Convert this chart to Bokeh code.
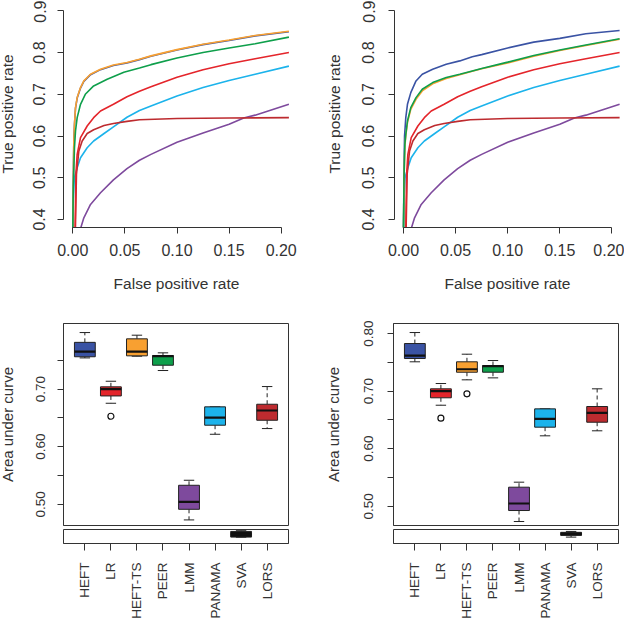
import math
from bokeh.plotting import figure
from bokeh.models import Range1d, FixedTicker, PrintfTickFormatter
from bokeh.layouts import row, column
from bokeh.embed import file_html
from bokeh.resources import INLINE

FONT = "Liberation Sans"
TXT = "#333333"
AX = "#333333"

# ---------------- colours per method ----------------
methods = ["HEFT", "LR", "HEFT-TS", "PEER", "LMM", "PANAMA", "SVA", "LORS"]
colors = ["#3A53A4", "#E4252B", "#F8A031", "#0E9F4B", "#7E4A9D", "#1CB3EB", "#111111", "#BD2B2F"]

# ---------------- ROC curves ----------------
# shared curves (identical in both panels)
lr_fpr = [0.0022, 0.003, 0.0042, 0.0074, 0.0138, 0.02, 0.0266, 0.039, 0.052, 0.064, 0.075, 0.1, 0.125, 0.15, 0.175, 0.2074]
lr_tpr = [0.378, 0.508, 0.556, 0.596, 0.624, 0.644, 0.66, 0.676, 0.694, 0.707, 0.718, 0.741, 0.759, 0.773, 0.785, 0.80]
lors_fpr = [0.0025, 0.0035, 0.0058, 0.009, 0.0138, 0.02, 0.03, 0.039, 0.052, 0.064, 0.1, 0.15, 0.2074]
lors_tpr = [0.378, 0.508, 0.564, 0.588, 0.606, 0.615, 0.625, 0.63, 0.635, 0.639, 0.642, 0.643, 0.644]
panama_fpr = [0.0, 0.0005, 0.0015, 0.0042, 0.0074, 0.0138, 0.02, 0.03, 0.039, 0.052, 0.064, 0.075, 0.1, 0.125, 0.15, 0.175, 0.2074]
panama_tpr = [0.378, 0.45, 0.50, 0.524, 0.548, 0.572, 0.588, 0.606, 0.622, 0.645, 0.661, 0.672, 0.696, 0.716, 0.733, 0.748, 0.7675]
lmm_fpr = [0.0074, 0.0106, 0.017, 0.0266, 0.039, 0.052, 0.064, 0.075, 0.1, 0.125, 0.15, 0.164, 0.175, 0.2074]
lmm_tpr = [0.378, 0.404, 0.436, 0.464, 0.495, 0.522, 0.542, 0.556, 0.585, 0.607, 0.628, 0.643, 0.65, 0.676]

# left panel
heftts_a_fpr = [0.0, 0.0005, 0.001, 0.0016, 0.0026, 0.0042, 0.0074, 0.0106, 0.017, 0.0266, 0.039, 0.052, 0.064, 0.075, 0.1, 0.125, 0.15, 0.175, 0.2074]
heftts_a_tpr = [0.378, 0.50, 0.59, 0.628, 0.668, 0.692, 0.716, 0.732, 0.748, 0.76, 0.77, 0.776, 0.784, 0.792, 0.807, 0.82, 0.83, 0.841, 0.851]
heft_a_fpr = [0.0, 0.0005, 0.001, 0.0016, 0.0026, 0.0042, 0.0074, 0.0106, 0.017, 0.0266, 0.039, 0.052, 0.064, 0.075, 0.1, 0.125, 0.15, 0.175, 0.2074]
heft_a_tpr = [0.378, 0.50, 0.589, 0.627, 0.667, 0.691, 0.715, 0.731, 0.747, 0.759, 0.769, 0.775, 0.783, 0.791, 0.806, 0.819, 0.829, 0.840, 0.850]
peer_a_fpr = [0.0, 0.0005, 0.0016, 0.0026, 0.0042, 0.0074, 0.012, 0.02, 0.033, 0.049, 0.064, 0.075, 0.1, 0.125, 0.15, 0.175, 0.2074]
peer_a_tpr = [0.378, 0.48, 0.572, 0.612, 0.644, 0.676, 0.70, 0.72, 0.736, 0.753, 0.763, 0.771, 0.787, 0.80, 0.811, 0.821, 0.837]

# right panel
heft_b_fpr = [0.0, 0.0005, 0.001, 0.0022, 0.0038, 0.007, 0.012, 0.018, 0.028, 0.041, 0.054, 0.066, 0.075, 0.1, 0.125, 0.15, 0.175, 0.2074]
heft_b_tpr = [0.378, 0.52, 0.60, 0.644, 0.676, 0.704, 0.732, 0.748, 0.76, 0.772, 0.78, 0.79, 0.795, 0.811, 0.825, 0.834, 0.845, 0.853]
heftts_b_fpr = [0.0, 0.0005, 0.0013, 0.0022, 0.0038, 0.007, 0.012, 0.018, 0.028, 0.041, 0.054, 0.066, 0.075, 0.1, 0.125, 0.15, 0.175, 0.2074]
heftts_b_tpr = [0.378, 0.495, 0.575, 0.60, 0.632, 0.664, 0.688, 0.708, 0.725, 0.738, 0.747, 0.755, 0.761, 0.775, 0.791, 0.805, 0.817, 0.832]
peer_b_fpr = [0.0, 0.0005, 0.0013, 0.0022, 0.0038, 0.007, 0.012, 0.018, 0.028, 0.041, 0.054, 0.066, 0.075, 0.1, 0.125, 0.15, 0.175, 0.2074]
peer_b_tpr = [0.378, 0.50, 0.58, 0.604, 0.636, 0.668, 0.692, 0.712, 0.728, 0.74, 0.748, 0.756, 0.762, 0.777, 0.793, 0.806, 0.818, 0.833]

roc_y_ticks = [0.4, 0.5, 0.6, 0.7, 0.8, 0.9]
roc_x_ticks = [0.0, 0.05, 0.1, 0.15, 0.2]

# ---------------- AUC box plots ----------------
# order: HEFT, LR, HEFT-TS, PEER, LMM, PANAMA, SVA, LORS
a_lo  = [0.754, 0.6753, 0.757, 0.7321, 0.4729, 0.6215, 0.2980, 0.6314]
a_q1  = [0.756, 0.688, 0.7576, 0.7413, 0.4913, 0.6372, 0.2983, 0.6458]
a_med = [0.765, 0.6997, 0.765, 0.7570, 0.5042, 0.6505, 0.3060, 0.6627]
a_q3  = [0.781, 0.7038, 0.7871, 0.7582, 0.533, 0.6691, 0.3145, 0.6736]
a_hi  = [0.798, 0.7135, 0.7934, 0.7628, 0.5417, 0.6691, 0.3165, 0.7043]
a_out_method = ["LR"]
a_out_value = [0.6528]

b_lo  = [0.7509, 0.6755, 0.7196, 0.7230, 0.4736, 0.6224, 0.2983, 0.6311]
b_q1  = [0.7566, 0.6884, 0.7328, 0.7328, 0.4927, 0.6374, 0.3030, 0.6460]
b_med = [0.7618, 0.6999, 0.7380, 0.7435, 0.5049, 0.6519, 0.3074, 0.6623]
b_q3  = [0.7826, 0.7040, 0.7509, 0.7444, 0.5332, 0.6692, 0.3119, 0.6733]
b_hi  = [0.8017, 0.7132, 0.7641, 0.7531, 0.5419, 0.6692, 0.3145, 0.7040]
b_out_method = ["LR", "HEFT-TS"]
b_out_value = [0.6530, 0.6953]

auc_a_ticks = [0.5, 0.6, 0.7]
auc_b_ticks = [0.5, 0.6, 0.7, 0.8]
auc_minor_ticks = [0.55, 0.65, 0.75]


def style_axis(ax, size):
    ax.axis_line_color = AX
    ax.major_tick_line_color = AX
    ax.minor_tick_line_color = AX
    ax.major_tick_in = 0
    ax.major_tick_out = 6
    ax.minor_tick_in = 0
    ax.minor_tick_out = 6
    ax.major_label_text_font = FONT
    ax.major_label_text_color = TXT
    ax.major_label_text_font_size = size
    ax.axis_label_text_font = FONT
    ax.axis_label_text_color = TXT
    ax.axis_label_text_font_style = "normal"


def roc_fig(curves, border_left, border_right, axis_gap, extra=0):
    # axis_gap: pixels between the plot's left edge and the x = 0 tick
    plot_w = 226
    width = border_left + plot_w + border_right
    px_per = 1042.0
    xs = -axis_gap / px_per
    xe = xs + plot_w / px_per
    p = figure(width=width, height=300, output_backend="svg", toolbar_location=None,
               x_range=Range1d(xs, xe), y_range=Range1d(0.3808, 0.9247),
               min_border_left=border_left, min_border_right=border_right,
               min_border_top=0, min_border_bottom=73)
    p.outline_line_color = None
    p.grid.visible = False
    for fx, fy, c in curves:
        p.line(fx, fy, line_color=c, line_width=1.6)
    xa, ya = p.xaxis[0], p.yaxis[0]
    style_axis(xa, "16px")
    style_axis(ya, "16px")
    xa.ticker = FixedTicker(ticks=roc_x_ticks)
    ya.ticker = FixedTicker(ticks=roc_y_ticks)
    xa.formatter = PrintfTickFormatter(format="%.2f")
    ya.formatter = PrintfTickFormatter(format="%.1f")
    xa.bounds = (roc_x_ticks[0], roc_x_ticks[-1])
    ya.bounds = (roc_y_ticks[0], roc_y_ticks[-1])
    xa.minor_tick_line_color = None
    ya.minor_tick_line_color = None
    ya.major_label_orientation = "vertical"
    xa.axis_label = "False positive rate"
    ya.axis_label = "True positive rate"
    xa.axis_label_text_font_size = "15.5px"
    ya.axis_label_text_font_size = "15.5px"
    xa.major_label_standoff = 10
    ya.major_label_standoff = 12 + extra
    xa.axis_label_standoff = 16
    ya.axis_label_standoff = 15 + extra
    return p


def draw_boxes(p, lo, q1, med, q3, hi, out_m, out_v):
    xpos = list(range(1, len(methods) + 1))
    left = [x - 0.4 for x in xpos]
    right = [x + 0.4 for x in xpos]
    capl = [x - 0.2 for x in xpos]
    capr = [x + 0.2 for x in xpos]
    p.segment(xpos, q3, xpos, hi, line_color="#222222", line_width=1, line_dash="4 3")
    p.segment(xpos, q1, xpos, lo, line_color="#222222", line_width=1, line_dash="4 3")
    p.segment(capl, hi, capr, hi, line_color="#222222", line_width=1)
    p.segment(capl, lo, capr, lo, line_color="#222222", line_width=1)
    p.quad(left=left, right=right, bottom=q1, top=q3, fill_color=colors,
           line_color="#222222", line_width=1)
    p.segment(left, med, right, med, line_color="#111111", line_width=2.2)
    ox = [methods.index(m) + 1 for m in out_m]
    p.scatter(ox, out_v, marker="circle", size=6, fill_color=None,
              line_color="#111111", line_width=1.2)


def box_main(lo, q1, med, q3, hi, out_m, out_v, border_left, border_right, y0, y1, ticks, extra=0):
    p = figure(width=border_left + 225 + border_right, height=227, output_backend="svg",
               toolbar_location=None,
               x_range=Range1d(0.18, 8.82), y_range=Range1d(y0, y1),
               x_axis_location=None,
               min_border_left=border_left, min_border_right=border_right,
               min_border_top=23, min_border_bottom=2)
    p.grid.visible = False
    p.outline_line_color = AX
    p.outline_line_width = 1
    draw_boxes(p, lo, q1, med, q3, hi, out_m, out_v)
    ya = p.yaxis[0]
    style_axis(ya, "13.5px")
    ya.ticker = FixedTicker(ticks=ticks, minor_ticks=auc_minor_ticks)
    ya.formatter = PrintfTickFormatter(format="%.2f")
    ya.major_label_orientation = "vertical"
    ya.axis_label = "Area under curve"
    ya.axis_label_text_font_size = "15px"
    ya.major_label_standoff = 12 + extra
    ya.axis_label_standoff = 18 + extra
    return p


def box_sub(lo, q1, med, q3, hi, out_m, out_v, border_left, border_right):
    p = figure(width=border_left + 225 + border_right, height=94, output_backend="svg",
               toolbar_location=None,
               x_range=Range1d(0.18, 8.82), y_range=Range1d(0.28, 0.32),
               y_axis_location=None,
               min_border_left=border_left, min_border_right=border_right,
               min_border_top=2, min_border_bottom=73)
    p.grid.visible = False
    p.outline_line_color = AX
    p.outline_line_width = 1
    draw_boxes(p, lo, q1, med, q3, hi, out_m, out_v)
    xa = p.xaxis[0]
    style_axis(xa, "13.5px")
    xa.ticker = FixedTicker(ticks=list(range(1, len(methods) + 1)))
    xa.major_label_overrides = {i + 1: m for i, m in enumerate(methods)}
    xa.minor_tick_line_color = None
    xa.major_tick_out = 7
    xa.major_label_orientation = math.pi / 2
    xa.major_label_standoff = 12
    return p


curves_a = [(lmm_fpr, lmm_tpr, colors[4]), (panama_fpr, panama_tpr, colors[5]),
            (lors_fpr, lors_tpr, colors[7]), (lr_fpr, lr_tpr, colors[1]),
            (heft_a_fpr, heft_a_tpr, colors[0]), (heftts_a_fpr, heftts_a_tpr, colors[2]),
            (peer_a_fpr, peer_a_tpr, colors[3])]
curves_b = [(lmm_fpr, lmm_tpr, colors[4]), (panama_fpr, panama_tpr, colors[5]),
            (lors_fpr, lors_tpr, colors[7]), (lr_fpr, lr_tpr, colors[1]),
            (heft_b_fpr, heft_b_tpr, colors[0]), (heftts_b_fpr, heftts_b_tpr, colors[2]),
            (peer_b_fpr, peer_b_tpr, colors[3])]

# the whole page is shifted 8px left, so the left column gets 8px more border
p_tl = roc_fig(curves_a, 71, 24, 9.3)
p_tr = roc_fig(curves_b, 81, 4, 9.0, extra=2)

b_l = box_main(a_lo, a_q1, a_med, a_q3, a_hi, a_out_method, a_out_value, 71, 25, 0.4632, 0.8137, auc_a_ticks)
b_l_s = box_sub(a_lo, a_q1, a_med, a_q3, a_hi, a_out_method, a_out_value, 71, 25)
b_r = box_main(b_lo, b_q1, b_med, b_q3, b_hi, b_out_method, b_out_value, 80, 4, 0.4667, 0.8174, auc_b_ticks, extra=2)
b_r_s = box_sub(b_lo, b_q1, b_med, b_q3, b_hi, b_out_method, b_out_value, 80, 4)

layout = column(row(p_tl, p_tr), row(column(b_l, b_l_s), column(b_r, b_r_s)),
                styles={"position": "absolute", "left": "-8px", "top": "0px"})

open("out.html", "w").write(file_html(layout, INLINE))
